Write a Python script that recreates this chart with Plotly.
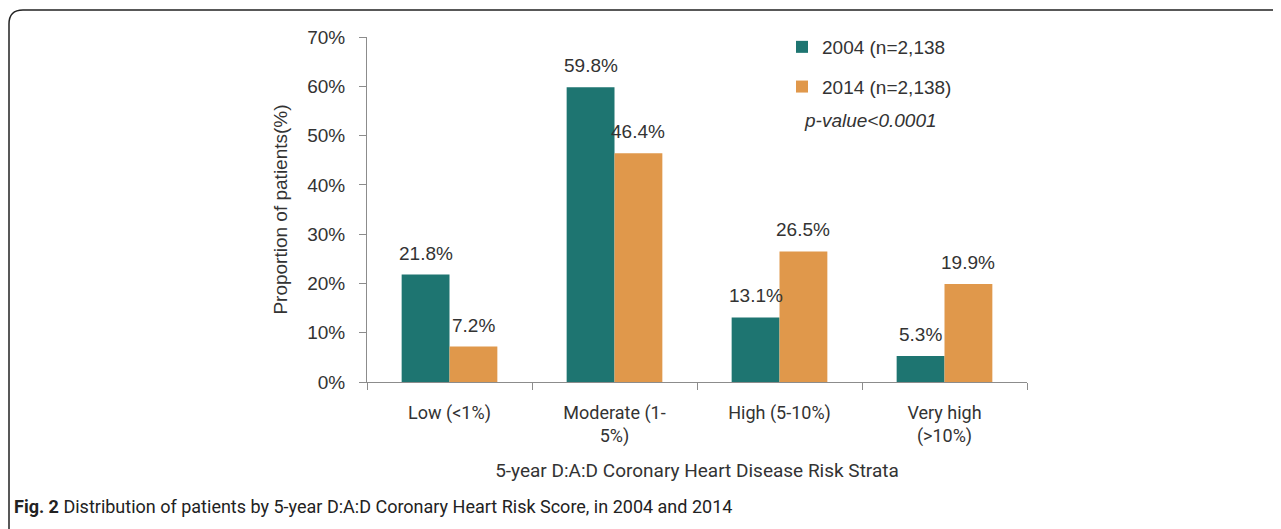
import plotly.graph_objects as go

categories = ["Low (<1%)", "Moderate (1-<br>5%)", "High (5-10%)", "Very high<br>(>10%)"]
vals_2004 = [21.8, 59.8, 13.1, 5.3]
vals_2014 = [7.2, 46.4, 26.5, 19.9]
series_names = ["2004 (n=2,138", "2014 (n=2,138)"]
colours = ["#1e7571", "#e0984b"]

W, H = 1281, 529
OFF = 8  # page body margin
L, R, T, B = 367 - OFF, 1027 - OFF, 37 - OFF, 382 - OFF  # plot area in pixels


def px(x):
    return (x - OFF - L) / (R - L)


def py(y):
    return (B - (y - OFF)) / (B - T)


fig = go.Figure()
labels = []
half = (R - L) / len(categories) * 0.58 / 4  # half of one bar's width, in pixels
for i, (name, vals, col) in enumerate(zip(series_names, [vals_2004, vals_2014], colours)):
    fig.add_trace(go.Bar(
        x=categories, y=vals, name=name, legendgroup="g%d" % i,
        marker=dict(color=col, line=dict(width=0)),
        hovertemplate="%{y:.1f}%<extra></extra>",
    ))
    for c, v in zip(categories, vals):
        labels.append(dict(
            x=c, y=v, xref="x", yref="y", text="%.1f%%" % v, showarrow=False,
            xanchor="center", yanchor="bottom", xshift=(-1 if i == 0 else 1) * half,
            yshift=9, font=dict(family="Liberation Sans", size=19, color="#333333"),
        ))

# frame with rounded top-left corner
r = 14
frame = ("M %f,%f L %f,%f Q %f,%f %f,%f L %f,%f" % (
    px(9), py(560), px(9), py(10 + r), px(9), py(10), px(9 + r), py(10), px(1320), py(10)))

fig.update_layout(
    width=W, height=H,
    margin=dict(l=L, r=W - R, t=T, b=H - B),
    paper_bgcolor="white", plot_bgcolor="white",
    barmode="group", bargap=0.42, bargroupgap=0,
    font=dict(family="Liberation Sans", size=17, color="#333333"),
    yaxis=dict(
        range=[0, 70], dtick=10, ticksuffix="%", showgrid=False,
        showline=True, linecolor="#8c8c8c", linewidth=1,
        ticks="outside", ticklen=7, tickcolor="#8c8c8c", ticklabelstandoff=10,
        tickfont=dict(family="Liberation Sans", size=19, color="#333333"),
        title=dict(text="Proportion of patients(%)", standoff=14,
                   font=dict(family="Liberation Sans", size=19, color="#333333")),
        zeroline=False,
    ),
    xaxis=dict(
        showline=True, linecolor="#8c8c8c", linewidth=1,
        ticks="outside", ticklen=7, tickcolor="#8c8c8c", tickson="boundaries",
        ticklabelstandoff=14,
        tickfont=dict(family="Roboto", size=18, color="#333333"),
        title=dict(text="5-year D:A:D Coronary Heart Disease Risk Strata", standoff=17,
                   font=dict(family="Roboto", size=19, color="#333333")),
    ),
    legend=dict(
        x=px(782), y=py(28), xanchor="left", yanchor="top",
        font=dict(family="Liberation Sans", size=19, color="#333333"),
        bgcolor="rgba(0,0,0,0)", tracegroupgap=12, traceorder="grouped",
        itemwidth=30,
    ),
    showlegend=True,
    annotations=labels + [
        dict(text="<i>p-value<0.0001</i>", x=px(802), y=py(120), xref="paper", yref="paper",
             xanchor="left", yanchor="middle", showarrow=False,
             font=dict(family="Liberation Sans", size=19, color="#333333")),
        dict(text="<b>Fig. 2</b> Distribution of patients by 5-year D:A:D Coronary Heart Risk Score, in 2004 and 2014",
             x=px(12), y=py(506), xref="paper", yref="paper",
             xanchor="left", yanchor="middle", showarrow=False,
             font=dict(family="Roboto", size=18, color="#222222")),
    ],
    shapes=[dict(type="path", path=frame, xref="paper", yref="paper",
                 line=dict(color="#222222", width=1.5))],
)

fig.write_html("out.html")
